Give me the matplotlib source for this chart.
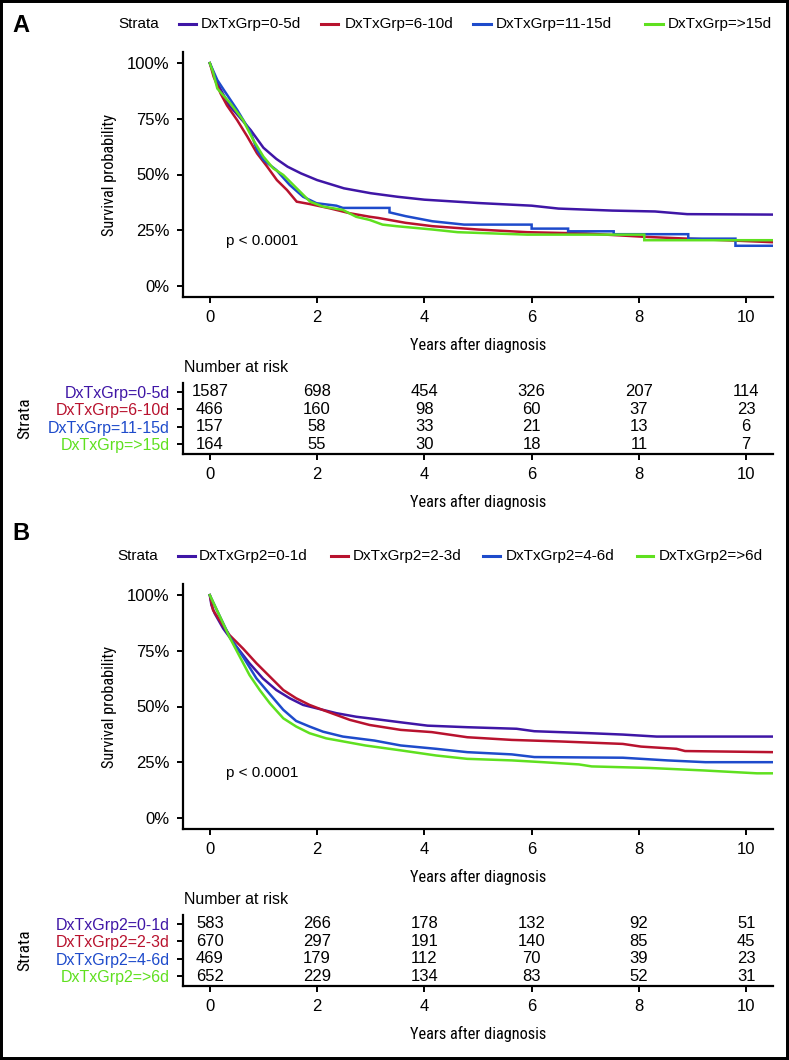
import matplotlib
matplotlib.use("Agg")
import matplotlib.pyplot as plt
from matplotlib.lines import Line2D
from matplotlib.patches import Rectangle

# ---------------- data ----------------
risk_times = [0, 2, 4, 6, 8, 10]
x_ticks = [0, 2, 4, 6, 8, 10]
y_ticks = [0, 0.25, 0.5, 0.75, 1.0]
y_ticklabels = ["0%", "25%", "50%", "75%", "100%"]

labels_A = ["DxTxGrp=0-5d", "DxTxGrp=6-10d", "DxTxGrp=11-15d", "DxTxGrp=>15d"]
labels_B = ["DxTxGrp2=0-1d", "DxTxGrp2=2-3d", "DxTxGrp2=4-6d", "DxTxGrp2=>6d"]

risk_A_0_5 = [1587, 698, 454, 326, 207, 114]
risk_A_6_10 = [466, 160, 98, 60, 37, 23]
risk_A_11_15 = [157, 58, 33, 21, 13, 6]
risk_A_gt15 = [164, 55, 30, 18, 11, 7]

risk_B_0_1 = [583, 266, 178, 132, 92, 51]
risk_B_2_3 = [670, 297, 191, 140, 85, 45]
risk_B_4_6 = [469, 179, 112, 70, 39, 23]
risk_B_gt6 = [652, 229, 134, 83, 52, 31]

# survival curves (years, survival)
tA_0_5 = [0, 0.14, 0.36, 0.51, 0.76, 1.0, 1.24, 1.45, 1.7, 2.0, 2.5, 3.0, 3.5, 4.0, 5.0, 6.0, 6.5, 7.5, 8.3, 8.9, 10.5]
sA_0_5 = [1.0, 0.91, 0.81, 0.77, 0.70, 0.62, 0.57, 0.535, 0.505, 0.475, 0.438, 0.416, 0.40, 0.387, 0.372, 0.36, 0.347, 0.338, 0.334, 0.322, 0.32]

tA_6_10 = [0, 0.07, 0.2, 0.32, 0.51, 0.7, 0.88, 1.07, 1.25, 1.44, 1.62, 1.87, 2.24, 2.61, 2.99, 3.14, 3.65, 4.15, 5.0, 5.92, 7.02, 8.12, 9.3, 10.5]
sA_6_10 = [1.0, 0.94, 0.864, 0.81, 0.744, 0.67, 0.595, 0.535, 0.475, 0.43, 0.378, 0.367, 0.348, 0.326, 0.31, 0.305, 0.283, 0.268, 0.253, 0.241, 0.235, 0.22, 0.208, 0.196]

tA_11_15 = [0, 0.14, 0.26, 0.51, 0.76, 0.88, 1.0, 1.24, 1.49, 1.74, 1.99, 2.36, 2.48, 3.35, 3.35, 3.65, 4.15, 4.74,
            6.0, 6.0, 6.68, 6.68, 7.53, 7.53, 8.92, 8.92, 9.8, 9.8, 10.5]
sA_11_15 = [1.0, 0.924, 0.88, 0.79, 0.69, 0.61, 0.565, 0.52, 0.453, 0.40, 0.371, 0.36, 0.35, 0.35, 0.33, 0.313, 0.29, 0.275,
            0.275, 0.257, 0.257, 0.245, 0.245, 0.232, 0.232, 0.212, 0.212, 0.18, 0.18]

tA_gt15 = [0, 0.06, 0.14, 0.38, 0.62, 0.81, 1.0, 1.18, 1.37, 1.62, 1.87, 2.11, 2.48, 2.73, 2.98, 3.22, 3.48, 4.15, 4.62, 5.92, 8.1, 8.1, 10.5]
sA_gt15 = [1.0, 0.96, 0.886, 0.82, 0.744, 0.655, 0.58, 0.528, 0.498, 0.438, 0.378, 0.356, 0.341, 0.31, 0.296, 0.275, 0.268, 0.253, 0.241, 0.23, 0.23, 0.205, 0.205]

tB_0_1 = [0, 0.03, 0.09, 0.25, 0.5, 0.74, 0.99, 1.24, 1.49, 1.74, 1.99, 2.36, 2.73, 3.07, 3.56, 4.06, 4.8, 5.72, 6.05, 7.1, 7.7, 8.33, 10.5]
sB_0_1 = [1.0, 0.955, 0.918, 0.85, 0.768, 0.694, 0.626, 0.574, 0.537, 0.507, 0.492, 0.47, 0.454, 0.444, 0.429, 0.414, 0.407, 0.40, 0.389, 0.38, 0.374, 0.365, 0.365]

tB_2_3 = [0, 0.06, 0.2, 0.37, 0.62, 0.87, 1.12, 1.37, 1.61, 1.86, 2.11, 2.36, 2.61, 2.98, 3.56, 4.14, 4.8, 5.63, 6.54, 7.7, 8.04, 8.7, 8.86, 10.5]
sB_2_3 = [1.0, 0.933, 0.88, 0.82, 0.76, 0.694, 0.634, 0.574, 0.537, 0.507, 0.484, 0.462, 0.44, 0.417, 0.395, 0.385, 0.362, 0.35, 0.343, 0.332, 0.32, 0.31, 0.30, 0.295]

tB_4_6 = [0, 0.19, 0.37, 0.62, 0.87, 1.12, 1.37, 1.61, 1.86, 2.11, 2.48, 3.07, 3.56, 4.22, 4.8, 5.63, 6.05, 7.7, 8.53, 9.24, 10.5]
sB_4_6 = [1.0, 0.903, 0.813, 0.723, 0.626, 0.555, 0.485, 0.435, 0.41, 0.387, 0.365, 0.347, 0.325, 0.31, 0.295, 0.285, 0.273, 0.27, 0.258, 0.25, 0.25]

tB_gt6 = [0, 0.19, 0.37, 0.56, 0.74, 0.93, 1.12, 1.37, 1.61, 1.86, 2.17, 2.4, 2.9, 3.56, 4.22, 4.8, 5.63, 6.21, 6.88, 7.12, 8.2, 9.2, 10.2, 10.5]
sB_gt6 = [1.0, 0.903, 0.81, 0.723, 0.641, 0.574, 0.514, 0.447, 0.41, 0.38, 0.357, 0.347, 0.325, 0.303, 0.28, 0.265, 0.258, 0.25, 0.24, 0.231, 0.224, 0.213, 0.20, 0.20]

colors = ["#3F16A6", "#B8122E", "#1E4BCB", "#5FE01F"]

# ---------------- style ----------------
plt.rcParams['font.family'] = ['Liberation Sans', 'DejaVu Sans']
COND = ['Roboto Condensed', 'Roboto', 'Liberation Sans']
W, H = 789, 1060
fig = plt.figure(figsize=(W / 100, H / 100), dpi=100)
fig.patch.set_facecolor("white")


def fy(py):
    return 1 - py / H


def style_axes(ax):
    for s in ["top", "right"]:
        ax.spines[s].set_visible(False)
    for s in ["left", "bottom"]:
        ax.spines[s].set_linewidth(1.6)
        ax.spines[s].set_color("black")
    ax.tick_params(axis="both", length=4.5, width=1.4, color="black", labelsize=12, pad=5)


def panel(off, letter, labels, curves, risks):
    # letter
    fig.text(12 / W, fy(25 + (508 if off else 0)), letter, fontsize=17, fontweight="bold", va="center", ha="left")
    # legend
    ly = 24 + off
    if off == 0:
        xs = [118, (179, 196, 201), (321, 338, 345), (473, 491, 496), (645, 663, 668)]
    else:
        xs = [117, (178, 195, 199), (331, 348, 353), (483, 500, 506), (637, 653, 659)]
    fig.text(xs[0] / W, fy(ly), "Strata", fontsize=11, va="center", ha="left")
    for i, lab in enumerate(labels):
        a, b, c = xs[i + 1]
        fig.add_artist(Line2D([a / W, b / W], [fy(ly), fy(ly)], color=colors[i], lw=2.2,
                              transform=fig.transFigure))
        fig.text(c / W, fy(ly), lab, fontsize=11, va="center", ha="left")

    # main survival plot
    ax = fig.add_axes([183 / W, fy(297 + off), 590 / W, 245 / H])
    for i, (t, s) in enumerate(curves):
        ax.plot(t, s, color=colors[i], lw=1.8, solid_joinstyle="miter")
    ax.set_xlim(-0.5, 10.5)
    ax.set_ylim(-0.05, 1.05)
    ax.set_xticks(x_ticks)
    ax.set_yticks(y_ticks)
    ax.set_yticklabels(y_ticklabels)
    style_axes(ax)
    ax.set_xlabel("Years after diagnosis", fontsize=11.8, family=COND)
    ax.xaxis.set_label_coords(0.5, -0.165)
    ax.set_ylabel("Survival probability", fontsize=11.8, family=COND)
    ax.yaxis.set_label_coords(-0.112, 0.5)
    ax.text(0.3, 0.2, "p < 0.0001", fontsize=11, va="center", ha="left")

    # risk table
    fig.text(184 / W, fy(367 + off), "Number at risk", fontsize=11.5, va="center", ha="left")
    tab = fig.add_axes([183 / W, fy(454 + off), 590 / W, 70.9 / H])
    n = len(labels)
    for i, r in enumerate(risks):
        for tt, v in zip(risk_times, r):
            tab.text(tt, n - i, str(v), fontsize=12, ha="center", va="center")
    tab.set_xlim(-0.5, 10.5)
    tab.set_ylim(0.45, 4.5)
    tab.set_xticks(x_ticks)
    tab.set_yticks([n - i for i in range(n)])
    tab.set_yticklabels(labels)
    for i, tl in enumerate(tab.get_yticklabels()):
        tl.set_color(colors[i])
        tl.set_fontsize(11.5)
    style_axes(tab)
    tab.tick_params(axis="y", labelsize=11.5)
    tab.set_xlabel("Years after diagnosis", fontsize=11.8, family=COND)
    tab.xaxis.set_label_coords(0.5, -0.57)
    fig.text(25 / W, fy(418 + off), "Strata", rotation=90, fontsize=12.5, family=COND, va="center", ha="center")


panel(0, "A", labels_A,
      [(tA_0_5, sA_0_5), (tA_6_10, sA_6_10), (tA_11_15, sA_11_15), (tA_gt15, sA_gt15)],
      [risk_A_0_5, risk_A_6_10, risk_A_11_15, risk_A_gt15])
panel(532, "B", labels_B,
      [(tB_0_1, sB_0_1), (tB_2_3, sB_2_3), (tB_4_6, sB_4_6), (tB_gt6, sB_gt6)],
      [risk_B_0_1, risk_B_2_3, risk_B_4_6, risk_B_gt6])

# frame around the whole figure
fig.add_artist(Rectangle((0, 0), 1, 1, transform=fig.transFigure, fill=False, lw=4.3, edgecolor="black"))

fig.savefig("out.png", dpi=100, facecolor="white")
